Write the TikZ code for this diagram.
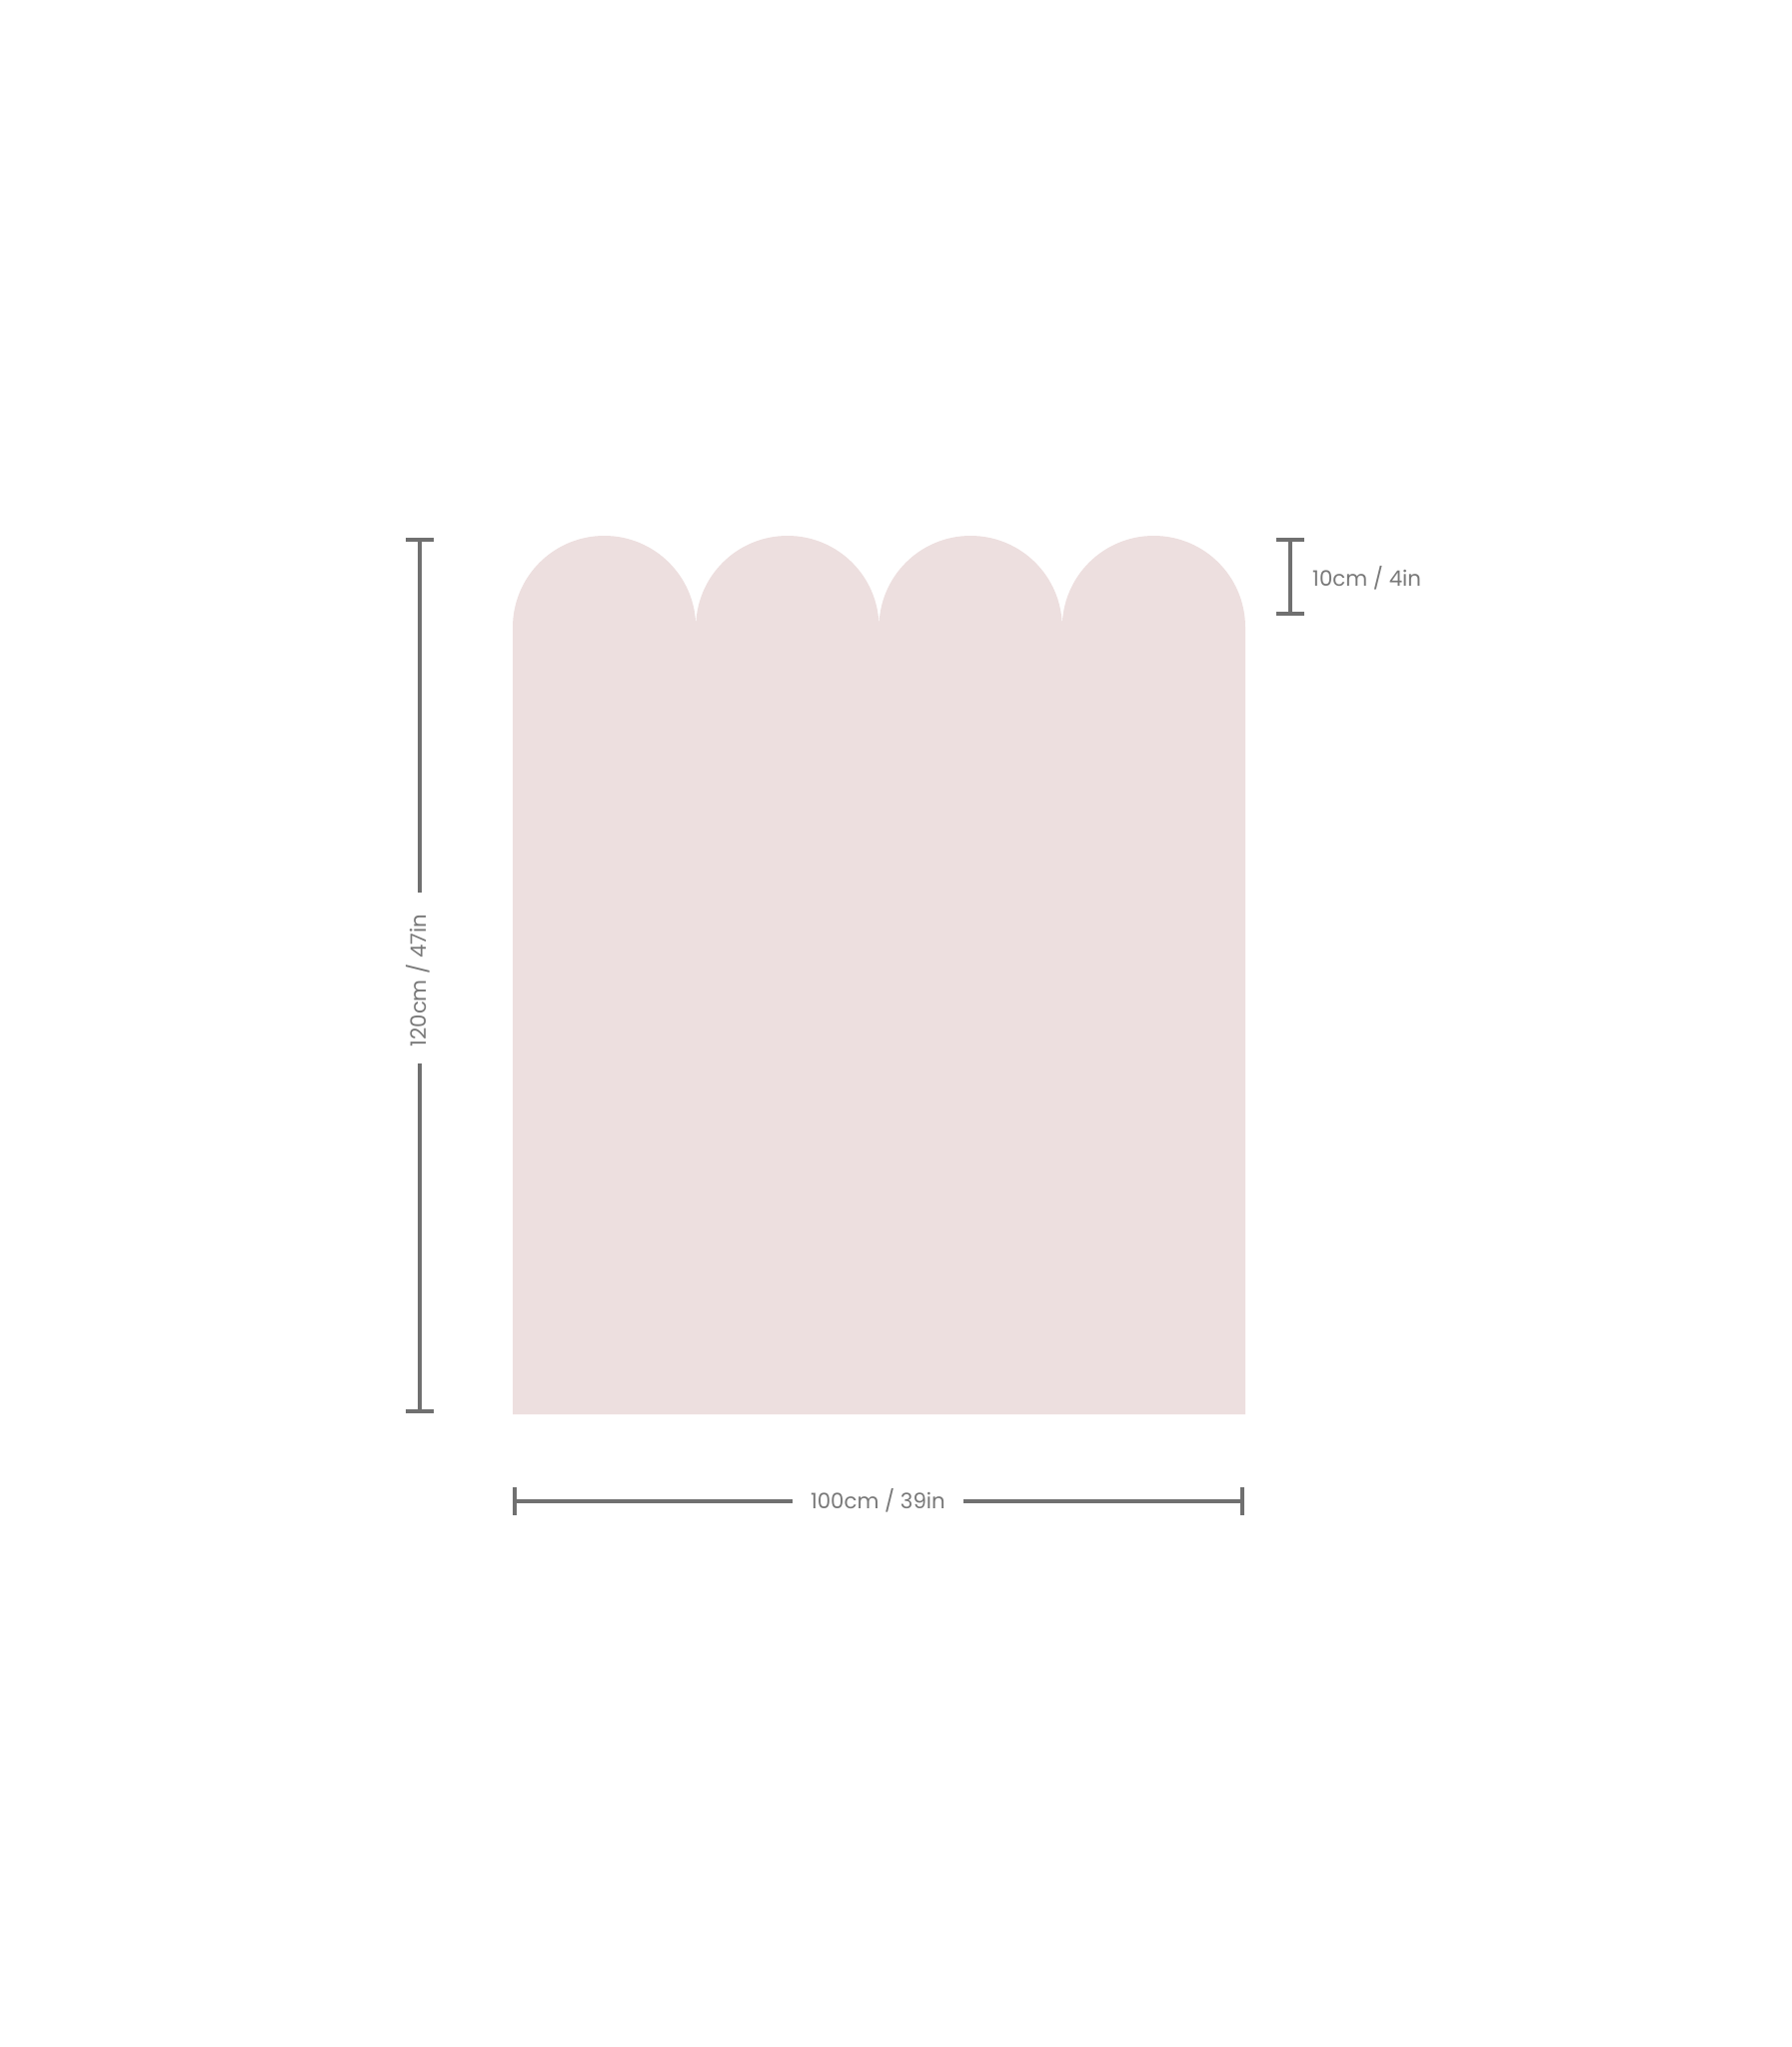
\documentclass[tikz,border=0pt]{standalone}
\usepackage{fontspec}
\setmainfont{Poppins}
\definecolor{panelpink}{RGB}{237,223,223}
\definecolor{dimgray}{RGB}{112,112,112}
\definecolor{labelgray}{RGB}{120,120,120}
\begin{document}
\begin{tikzpicture}[x=1pt,y=-1pt,
  dimline/.style={draw=dimgray,line width=4pt},
  dimlabel/.style={text=labelgray,inner sep=0pt,font=\fontsize{21.3}{24}\selectfont}]
\useasboundingbox (0,0) rectangle (1792,2048);
% panel with four semicircular arches
\def\pl{513}\def\pr{1246}\def\pt{536}\def\pb{1415}
\pgfmathsetmacro\aw{(\pr-\pl)/4}
\pgfmathsetmacro\ar{\aw/2}
\fill[panelpink] (\pl,\pb) -- (\pl,\pt+\ar)
  arc[start angle=180,end angle=0,x radius=\ar,y radius=-\ar]
  arc[start angle=180,end angle=0,x radius=\ar,y radius=-\ar]
  arc[start angle=180,end angle=0,x radius=\ar,y radius=-\ar]
  arc[start angle=180,end angle=0,x radius=\ar,y radius=-\ar]
  -- (\pr,\pb) -- cycle;
% vertical 120cm dimension
\coordinate (vt) at (420,540);
\coordinate (vb) at (420,1412);
\coordinate (vg1) at (420,892.7);
\coordinate (vg2) at (420,1064);
\node[dimlabel,rotate=90,anchor=base] (vlab) at (426.5,981) {120cm / 47in};
\draw[dimline] (406,540) -- (434,540);
\draw[dimline] (406,1412) -- (434,1412);
\draw[dimline] (vt) -- (vg1);
\draw[dimline] (vg2) -- (vb);
% small 10cm dimension
\coordinate (st) at (1291,540);
\coordinate (sb) at (1291,614);
\draw[dimline] (1277,540) -- (1305,540);
\draw[dimline] (1277,614) -- (1305,614);
\draw[dimline] (st) -- (sb);
\node[dimlabel,anchor=base west] (slab) at (1313,586.7) {10cm / 4in};
% horizontal 100cm dimension
\coordinate (hl) at (514.7,1502);
\coordinate (hr) at (1243.3,1502);
\coordinate (hg1) at (792.7,1502);
\coordinate (hg2) at (964,1502);
\draw[dimline] (514.7,1488) -- (514.7,1516);
\draw[dimline] (1243.3,1488) -- (1243.3,1516);
\draw[dimline] (hl) -- (hg1);
\draw[dimline] (hg2) -- (hr);
\node[dimlabel,anchor=base] (hlab) at (878.4,1509) {100cm / 39in};
\end{tikzpicture}
\end{document}
